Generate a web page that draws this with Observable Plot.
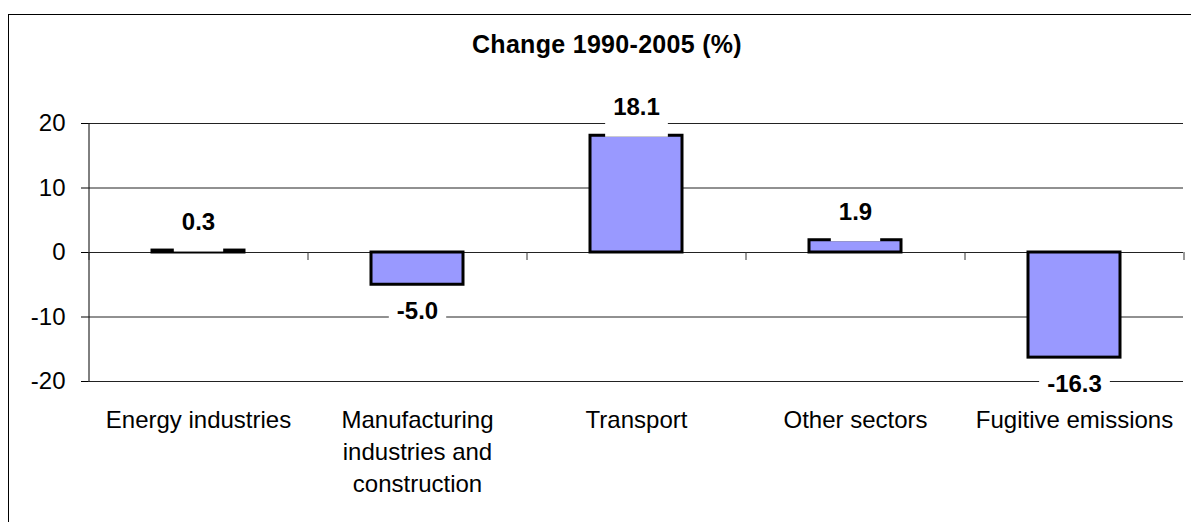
<!DOCTYPE html>
<html><head><meta charset="utf-8">
<script src="https://cdn.jsdelivr.net/npm/d3@7"></script>
<script src="https://cdn.jsdelivr.net/npm/@observablehq/plot@0.6"></script>
<style>
html,body{margin:0;padding:0;overflow:hidden;background:#fff;}
#wrap{position:relative;width:1191px;height:522px;overflow:hidden;font-family:Arial,"Liberation Sans",sans-serif;}
#frame{position:absolute;left:8px;top:14px;width:1400px;height:700px;border-left:1px solid #000;border-top:1px solid #000;}
#title{position:absolute;left:307px;width:600px;top:32px;text-align:center;font-weight:bold;font-size:25px;line-height:1;color:#000;letter-spacing:0.3px;}
#chart{position:absolute;left:0;top:0;}
</style></head><body>
<div id="wrap"><div id="frame"></div><div id="title"></div><div id="chart"></div></div>
<script>
const categories = ["Energy industries", "Manufacturing industries and construction", "Transport", "Other sectors", "Fugitive emissions"];
const tickLabels = ["Energy industries", "Manufacturing\nindustries and\nconstruction", "Transport", "Other sectors", "Fugitive emissions"];
const values = [0.3, -5.0, 18.1, 1.9, -16.3];
const yTicks = [-20, -10, 0, 10, 20];
const titleText = "Change 1990-2005 (%)";

document.getElementById("title").textContent = titleText;

const data = categories.map((c, i) => ({category: c, value: values[i]}));
const W = 1191, H = 522, mL = 88, mR = 8, mT = 123, mB = 141;
const halfStep = (W - mL - mR) / categories.length / 2;
const font = "Arial, 'Liberation Sans', sans-serif";

const svg = Plot.plot({
  width: W, height: H,
  marginLeft: mL, marginRight: mR, marginTop: mT, marginBottom: mB,
  style: {fontFamily: font, fontSize: "24px", background: "transparent", color: "#000", overflow: "visible"},
  x: {domain: categories, paddingInner: 0.58, paddingOuter: 0.29, label: null},
  y: {domain: [d3.min(yTicks), d3.max(yTicks)], label: null},
  marks: [
    Plot.ruleY(yTicks, {stroke: "#222", strokeWidth: 1}),
    Plot.ruleX([categories[0]], {dx: -halfStep, y1: d3.min(yTicks), y2: d3.max(yTicks), stroke: "#000"}),
    Plot.ruleX(categories, {dx: -halfStep, y1: 0, y2: 0, insetBottom: -8, stroke: "#333"}),
    Plot.ruleX([categories[categories.length - 1]], {dx: halfStep, y1: 0, y2: 0, insetBottom: -8, stroke: "#333"}),
    Plot.barY(data, {x: "category", y: "value", fill: "#9999FF", stroke: "#000", strokeWidth: 3}),
    Plot.text(data.filter(d => d.value >= 0), {x: "category", y: "value", text: d => d.value.toFixed(1), dy: -28, fontWeight: "bold", fontSize: 24, fill: "#000"}),
    Plot.text(data.filter(d => d.value < 0), {x: "category", y: "value", text: d => d.value.toFixed(1), dy: 27, fontWeight: "bold", fontSize: 24, fill: "#000"}),
    Plot.axisY(yTicks, {tickSize: 7, tickPadding: 16, fontSize: 24, label: null, tickFormat: d => String(d)}),
    Plot.axisX({tickSize: 0, tickPadding: 23, fontSize: 24, lineHeight: 1.35, label: null,
      tickFormat: d => tickLabels[categories.indexOf(d)]})
  ]
});
document.getElementById("chart").append(svg);

// white background boxes behind the value labels
const yScale = svg.scale("y");
const sr = svg.getBoundingClientRect();
const groups = svg.querySelectorAll('g[aria-label="text"]');
if (groups.length) {
  const ns = "http://www.w3.org/2000/svg";
  const boxG = document.createElementNS(ns, "g");
  groups.forEach(g => {
    g.querySelectorAll("text").forEach(t => {
      const v = parseFloat(t.textContent);
      if (isNaN(v)) return;
      const r = t.getBoundingClientRect();
      const end = yScale.apply(v);
      const left = r.left - sr.left - 8;
      const w = r.width + 16;
      let top, bottom;
      if (v >= 0) { top = r.top - sr.top - 1; bottom = end + 1.5; }
      else { top = r.top - sr.top + 2; bottom = r.bottom - sr.top; }
      const rect = document.createElementNS(ns, "rect");
      rect.setAttribute("x", left);
      rect.setAttribute("y", top);
      rect.setAttribute("width", w);
      rect.setAttribute("height", Math.max(0, bottom - top));
      rect.setAttribute("fill", "#fff");
      boxG.appendChild(rect);
    });
  });
  groups[0].parentNode.insertBefore(boxG, groups[0]);
}
</script>
</body></html>
